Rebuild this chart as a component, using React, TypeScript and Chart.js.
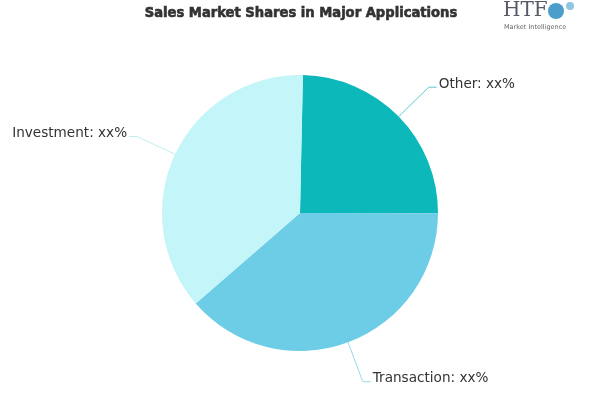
import React, { useEffect, useRef } from "react";
import { Chart, registerables } from "chart.js";

Chart.register(...registerables);

const categories = ["Other", "Transaction", "Investment"];
const shares = [24.7, 38.6, 36.7];
const valueLabels = ["xx%", "xx%", "xx%"];
const colors = ["#0db8bb", "#6ecde6", "#c4f5f8"];
const lineColors = ["#5cc9cb", "#9ad9ea", "#bdeff2"];
const titleText = "Sales Market Shares in Major Applications";

const labelPlugin = {
  id: "leaderLabels",
  afterDatasetsDraw(chart: any) {
    const ctx = chart.ctx;
    const meta = chart.getDatasetMeta(0);
    ctx.save();
    meta.data.forEach((arc: any, i: number) => {
      const { x, y, startAngle, endAngle, outerRadius } = arc.getProps(
        ["x", "y", "startAngle", "endAngle", "outerRadius"],
        true
      );
      const mid = (startAngle + endAngle) / 2;
      const cos = Math.cos(mid);
      const sin = Math.sin(mid);
      const p0x = x + cos * outerRadius;
      const p0y = y + sin * outerRadius;
      const r1 = outerRadius + 42;
      const p1x = x + cos * r1;
      const p1y = y + sin * r1;
      const right = cos >= 0;
      const p2x = p1x + (right ? 8 : -8);
      ctx.beginPath();
      ctx.strokeStyle = lineColors[i];
      ctx.lineWidth = 1;
      ctx.moveTo(p0x, p0y);
      ctx.lineTo(p1x, p1y);
      ctx.lineTo(p2x, p1y);
      ctx.stroke();
      ctx.font = "13.6px 'DejaVu Sans'";
      ctx.fillStyle = "#333333";
      ctx.textBaseline = "middle";
      ctx.textAlign = right ? "left" : "right";
      ctx.fillText(
        categories[i] + ": " + valueLabels[i],
        p2x + (right ? 2 : -2),
        p1y - 3
      );
    });
    // title
    ctx.font = "900 14.6px 'DejaVu Sans Condensed', 'DejaVu Sans'";
    ctx.fillStyle = "#333333";
    ctx.textAlign = "center";
    ctx.textBaseline = "middle";
    ctx.fillText(titleText, 301, 13);
    ctx.lineWidth = 0.6;
    ctx.strokeStyle = "#333333";
    ctx.strokeText(titleText, 301, 13);
    // logo
    ctx.font = "20px 'DejaVu Serif'";
    ctx.fillStyle = "#555a66";
    ctx.textAlign = "left";
    ctx.fillText("HTF", 503, 11);
    ctx.font = "6.5px 'DejaVu Sans'";
    ctx.fillStyle = "#666666";
    ctx.fillText("Market Intelligence", 504, 27);
    ctx.beginPath();
    ctx.fillStyle = "#4a9ec9";
    ctx.arc(556, 11, 8, 0, Math.PI * 2);
    ctx.fill();
    ctx.beginPath();
    ctx.fillStyle = "#8fc6e0";
    ctx.arc(570, 6, 4, 0, Math.PI * 2);
    ctx.fill();
    ctx.restore();
  },
};

export default function App() {
  const ref = useRef<HTMLCanvasElement>(null);
  useEffect(() => {
    document.body.style.margin = "0";
    const chart = new Chart(ref.current!, {
      type: "pie",
      data: {
        labels: categories,
        datasets: [
          {
            data: shares,
            backgroundColor: colors,
            borderWidth: 0,
          },
        ],
      },
      options: {
        animation: false,
        responsive: false,
        rotation: 1.2,
        layout: { padding: { top: 75, bottom: 49, left: 162, right: 162 } },
        plugins: {
          legend: { display: false },
          tooltip: { enabled: false },
          title: { display: false },
        },
      },
      plugins: [labelPlugin],
    });
    return () => chart.destroy();
  }, []);
  return (
    <div style={{ width: 600, height: 400, background: "#fff" }}>
      <canvas ref={ref} width={600} height={400} />
    </div>
  );
}
